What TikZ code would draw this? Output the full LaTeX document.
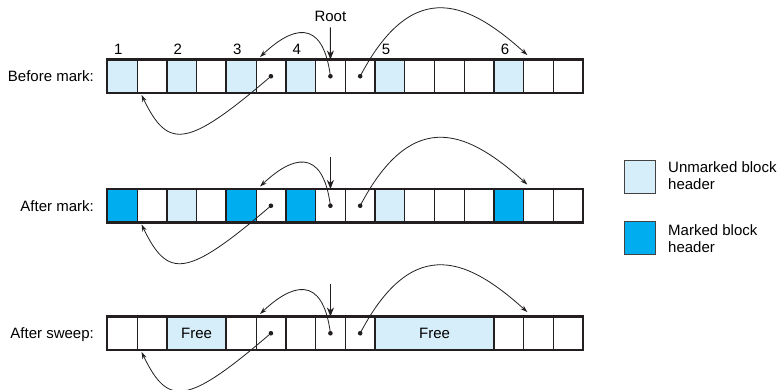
\documentclass[tikz,border=0pt]{standalone}
\usepackage{fontspec}
\setmainfont{Liberation Sans}
\usetikzlibrary{arrows.meta,calc}
\definecolor{lightb}{RGB}{214,237,250}
\definecolor{markb}{RGB}{0,174,239}
\definecolor{edge}{RGB}{35,31,32}
\tikzset{
 cell/.style={draw=edge, line width=0.8pt, minimum width=29.75pt, minimum height=33.5pt, inner sep=0pt, outer sep=0pt, anchor=north west},
 blk/.style={draw=edge, line width=2.2pt},
 dotn/.style={circle, fill=edge, inner sep=0pt, minimum size=4.6pt},
 ptr/.style={draw=edge, line width=0.8pt, -{Stealth[length=7pt,width=4.6pt]}},
 rootarr/.style={draw=edge, line width=0.9pt, -{Stealth[length=9pt,width=7pt]}},
 lbl/.style={anchor=base east, inner sep=0pt},
 num/.style={anchor=base, inner sep=0pt},
 leg/.style={draw=edge!85, line width=0.8pt, minimum width=30.7pt, minimum height=33.3pt, inner sep=0pt, anchor=north west},
 legtxt/.style={anchor=north west, inner sep=0pt, align=left},
}
\newcommand\memrow[3]{%
  \foreach \i/\cc in {#3}{\node[cell, fill=\cc] (#1c\i) at ({107.3+\i*29.75},#2) {};}%
}
\newcommand\memframe[1]{%
  \draw[blk] (#1c0.north west) rectangle (#1c15.south east);
  \foreach \i in {2,4,6,9,13}{\draw[blk] (#1c\i.north west) -- (#1c\i.south west);}%
}
\newcommand\memptrs[1]{%
  \node[dotn] (#1d5) at (#1c5.center) {};
  \node[dotn] (#1d7) at (#1c7.center) {};
  \node[dotn] (#1d8) at (#1c8.center) {};
  \coordinate (#1t5) at ($(#1c5.north west)+(4,-2.5)$);
  \coordinate (#1t14) at ($(#1c14.north west)+(3.5,-4.5)$);
  \coordinate (#1t1) at ($(#1c1.south west)+(4.5,2)$);
  \draw[ptr] (#1d7.center) .. controls ($(#1d7.center)+(-8,-61)$) and ($(#1d7.center)+(-40,-48)$) .. (#1t5);
  \draw[ptr] (#1d8.center) .. controls ($(#1d8.center)+(54,-103)$) and ($(#1d8.center)+(111,-71.5)$) .. (#1t14);
  \draw[ptr] (#1d5.center) .. controls ($(#1d5.center)+(-85,73)$) and ($(#1d5.center)+(-103,73)$) .. (#1t1);
}
\begin{document}
\begin{tikzpicture}[x=1pt,y=-1pt,font=\fontsize{15}{16.8}\selectfont]
\useasboundingbox[fill=white] (0,0) rectangle (780,390);

% Row 1: before mark
\memrow{r1}{59.5}{0/lightb,1/white,2/lightb,3/white,4/lightb,5/white,6/lightb,7/white,8/white,9/lightb,10/white,11/white,12/white,13/lightb,14/white,15/white}
\memframe{r1}
% Row 2: after mark
\memrow{r2}{189}{0/markb,1/white,2/lightb,3/white,4/markb,5/white,6/markb,7/white,8/white,9/lightb,10/white,11/white,12/white,13/markb,14/white,15/white}
\memframe{r2}
% Row 3: after sweep
\memrow{r3}{316.5}{0/white,1/white,4/white,5/white,6/white,7/white,8/white,13/white,14/white,15/white}
\node[cell, fill=lightb, minimum width=59.5pt] (r3c2) at ({107.3+2*29.75},316.5) {Free};
\node[cell, fill=lightb, minimum width=119pt] (r3c9) at ({107.3+9*29.75},316.5) {Free};
\memframe{r3}

\memptrs{r1}
\memptrs{r2}
\memptrs{r3}

% root arrows
\node[num] (root) at (330.4,21.5) {Root};
\draw[rootarr, shorten <=5.5pt] (root.south) -- (r1c7.north);
\coordinate (r2r) at ($(r2c7.north)+(0,-32)$);
\draw[rootarr] (r2r) -- (r2c7.north);
\coordinate (r3r) at ($(r3c7.north)+(0,-32)$);
\draw[rootarr] (r3r) -- (r3c7.north);

% row labels
\node[lbl] (lb1) at (94,81.6) {Before mark:};
\node[lbl] (lb2) at (94,211.1) {After mark:};
\node[lbl] (lb3) at (94,338.6) {After sweep:};

% block numbers
\node[num] (n1) at ({107.3+0*29.75+11},55) {1};
\node[num] (n2) at ({107.3+2*29.75+11},55) {2};
\node[num] (n3) at ({107.3+4*29.75+11},55) {3};
\node[num] (n4) at ({107.3+6*29.75+11},55) {4};
\node[num] (n5) at ({107.3+9*29.75+11},55) {5};
\node[num] (n6) at ({107.3+13*29.75+11},55) {6};

% legend
\node[leg, fill=lightb] (lg1) at (624.3,160) {};
\node[leg, fill=markb] (lg2) at (624.3,220.7) {};
\node[legtxt] (lt1) at (668,161.5) {Unmarked block\\header};
\node[legtxt] (lt2) at (668,224.5) {Marked block\\header};
\end{tikzpicture}
\end{document}
